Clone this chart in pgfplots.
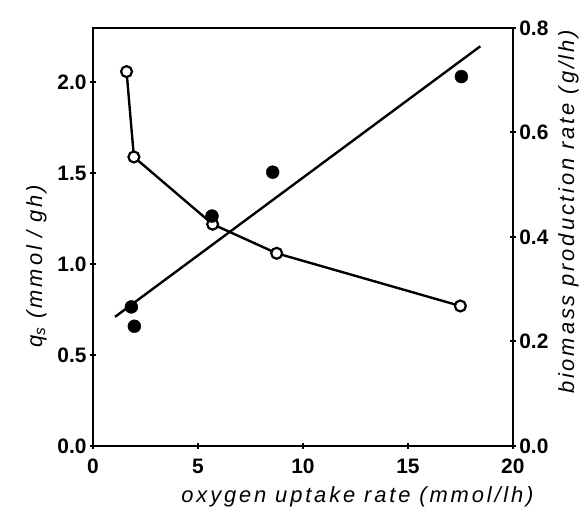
\documentclass[border=0pt]{standalone}
\usepackage{fontspec}
\setmainfont{Liberation Sans}
\newfontfamily\labfont[LetterSpace=13]{Liberation Sans}
\usepackage{pgfplots}
\pgfplotsset{compat=1.18}
\pgfplotsset{
  oldscan/.style={
    scale only axis,
    width=420bp,
    height=418bp,
    xmin=0, xmax=20,
    axis line style={line width=2.6pt},
    tick style={line width=2pt, black},
    major tick length=6pt,
    tick align=center,
    tick label style={font=\fontsize{21}{24}\selectfont\bfseries},
    label style={font=\fontsize{22}{26}\labfont\itshape},
    /pgf/number format/assume math mode=true,
  }
}
\begin{document}
\begin{tikzpicture}
% q_s, left axis
\begin{axis}[
  oldscan,
  name=main,
  xtick pos=left,
  ytick pos=left,
  ymin=0, ymax=2.3,
  ytick={0,0.5,1.0,1.5,2.0},
  xtick={0,5,10,15,20},
  xticklabel style={yshift=-7pt},
  yticklabel style={/pgf/number format/.cd, fixed, fixed zerofill, precision=1},
  xlabel={oxygen uptake rate (mmol/lh)},
  xlabel style={at={(ticklabel cs:0.63)}, yshift=-6pt},
  ylabel={q\textsubscript{s} (mmol / gh)},
  ylabel style={at={(ticklabel cs:0.43)}, yshift=4pt},
]
\addplot[line width=2.4pt, mark=*, mark size=5.5pt,
  mark options={fill=white, line width=2.2pt}]
  coordinates {(1.6,2.06) (1.95,1.59) (5.7,1.22) (8.75,1.06) (17.5,0.77)};
\end{axis}
% biomass, right axis
\begin{axis}[
  oldscan,
  axis x line=none,
  axis y line*=right,
  ymin=0, ymax=0.8,
  ytick={0,0.2,0.4,0.6,0.8},
  yticklabel style={/pgf/number format/.cd, fixed, fixed zerofill, precision=1},
  ylabel={biomass production rate (g/lh)},
  ylabel style={at={(ticklabel cs:0.56)}, yshift=-3pt},
]
\addplot[line width=2.4pt, no marks] coordinates {(1.05,0.247) (18.45,0.765)};
\addplot[only marks, mark=*, mark size=6.5pt, black]
  coordinates {(1.83,0.266) (1.97,0.229) (5.67,0.44) (8.56,0.524) (17.55,0.707)};
\end{axis}
% page margins as in the scan
\path ([xshift=-93bp,yshift=-72bp]main.south west) rectangle ([xshift=69bp,yshift=28bp]main.north east);
\end{tikzpicture}
\end{document}
